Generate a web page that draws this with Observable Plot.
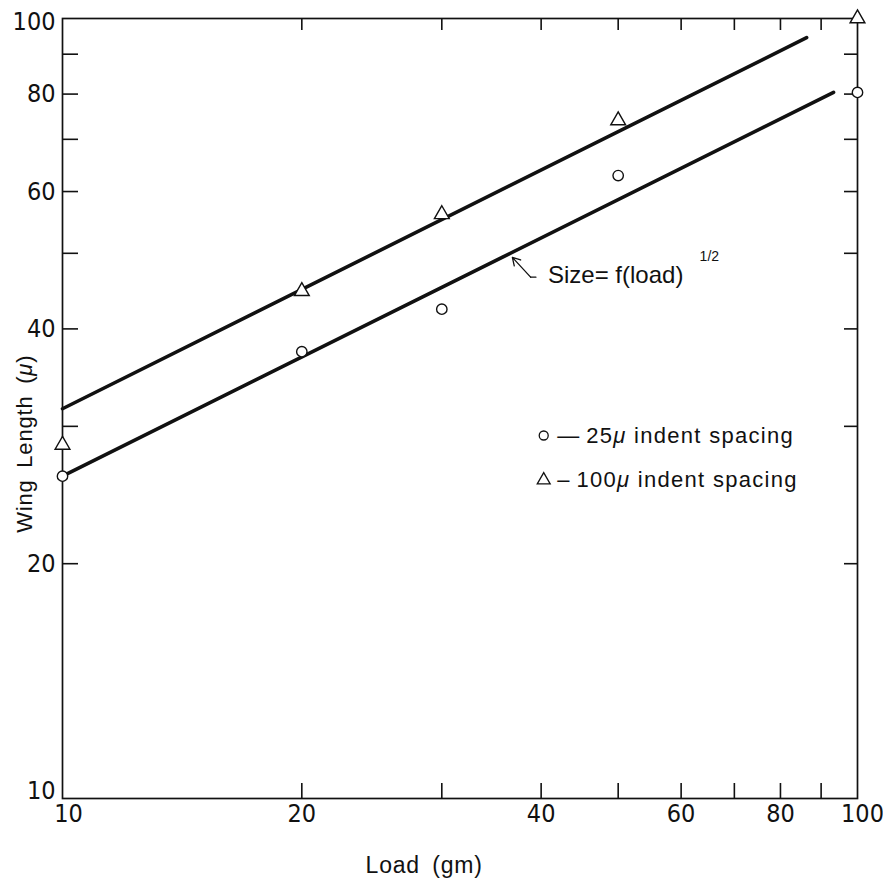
<!DOCTYPE html>
<html><head><meta charset="utf-8">
<script src="https://cdn.jsdelivr.net/npm/d3@7"></script>
<script src="https://cdn.jsdelivr.net/npm/@observablehq/plot@0.6"></script>
<style>
html,body{margin:0;padding:0;background:#fff;}
#chart svg{display:block;}
</style>
</head><body><div id="chart"></div>
<script>
// ---- data ----
const loads = [10, 20, 30, 50, 100];
const wing25 = [25.9, 37.4, 42.4, 62.9, 80.4];    // circles: 25μ indent spacing
const wing100 = [28.4, 44.7, 56.1, 74, 100];      // triangles: 100μ indent spacing
const fitUpperLoad = [10, 86.3];
const fitUpperWing = [31.6, 94.5];
const fitLowerLoad = [10, 93.3];
const fitLowerWing = [25.9, 80.4];
const xTickLabelsMid = [20, 40, 60, 80];
const yTickLabelsMid = [20, 40, 60, 80];
const tickMin = 10, tickMax = 100;
const xMinorTicks = [20, 30, 40, 50, 60, 70, 80, 90];
const yMinorTicks = [20, 30, 40, 50, 60, 70, 80, 90];
const legendLabels = ["\u2014\u200925μ indent spacing", "\u2013\u2009100μ indent spacing"];
const legendAnchorX = [40.3, 40.3];
const legendTextX = [41.9, 41.9];
const legendY = [29.2, 25.6];
const annotationText = "Size= f(load)";
const annotationSup = "1/2";
const xLabel = "Load\u2002(gm)";
const yLabel = "Wing\u2002Length\u2002(μ)";

// ---- layout ----
const W = 883, H = 880;
const mL = 62, mR = 26, mT = 18, mB = 82;
const pw = W - mL - mR, ph = H - mT - mB;
const ink = "#111";
const font = "'Liberation Sans', Arial, sans-serif";
const narrow = "'Liberation Sans Narrow', 'DejaVu Sans Condensed', 'Liberation Sans', sans-serif";
const tickText = {tickSize: 0, tickFormat: d => String(d), fontSize: 25, fontFamily: narrow, label: null};

const chart = Plot.plot({
  width: W, height: H,
  marginLeft: mL, marginRight: mR, marginTop: mT, marginBottom: mB,
  style: {fontFamily: font, fontSize: "19px", color: ink, background: "#fff"},
  x: {type: "log", domain: [10, 100]},
  y: {type: "log", domain: [10, 100]},
  marks: [
    Plot.frame({stroke: ink, strokeWidth: 1.7}),
    Plot.axisX(xTickLabelsMid, {...tickText, tickPadding: 6}),
    Plot.axisX([tickMin], {...tickText, tickPadding: 6, dx: 6}),
    Plot.axisX([tickMax], {...tickText, tickPadding: 6, dx: 5}),
    Plot.axisY(yTickLabelsMid, {...tickText, tickPadding: 7}),
    Plot.axisY([tickMin], {...tickText, tickPadding: 7, dy: -8}),
    Plot.axisY([tickMax], {...tickText, tickPadding: 7, dy: 3}),
    // inward ticks on all four sides
    Plot.ruleY(yMinorTicks, {stroke: ink, strokeWidth: 1.6, insetRight: pw - 16}),
    Plot.ruleY(yMinorTicks, {stroke: ink, strokeWidth: 1.6, insetLeft: pw - 13}),
    Plot.ruleX(xMinorTicks, {stroke: ink, strokeWidth: 1.6, insetTop: ph - 15}),
    Plot.ruleX(xMinorTicks, {stroke: ink, strokeWidth: 1.6, insetBottom: ph - 12}),
    // fitted lines
    Plot.line(fitUpperLoad, {x: d => d, y: (d, i) => fitUpperWing[i], stroke: ink, strokeWidth: 3.6}),
    Plot.line(fitLowerLoad, {x: d => d, y: (d, i) => fitLowerWing[i], stroke: ink, strokeWidth: 3.6}),
    // data points
    Plot.dot(loads, {x: d => d, y: (d, i) => wing25[i], r: 5.2, symbol: "circle", stroke: ink, strokeWidth: 1.4, fill: "white"}),
    Plot.dot(loads, {x: d => d, y: (d, i) => wing100[i], r: 5.5, symbol: "triangle", stroke: ink, strokeWidth: 1.4, fill: "white"}),
    // annotation arrow and text
    Plot.line([[39.4, 46.6], [38.8, 46.6]], {x: d => d[0], y: d => d[1], stroke: ink, strokeWidth: 1.3}),
    Plot.arrow([{x1: 38.8, y1: 46.6, x2: 36.8, y2: 49.4}], {x1: "x1", y1: "y1", x2: "x2", y2: "y2", stroke: ink, strokeWidth: 1.3, headLength: 10, insetEnd: 0}),
    Plot.text([annotationText], {x: 40.8, y: 46.8, text: d => d, textAnchor: "start", fontSize: 24, fill: ink}),
    Plot.text([annotationSup], {x: 63.3, y: 49.6, text: d => d, textAnchor: "start", fontSize: 14, fill: ink}),
    // legend
    Plot.dot([0], {x: legendAnchorX[0], y: legendY[0], symbol: "circle", r: 4.5, stroke: ink, strokeWidth: 1.3, fill: "white"}),
    Plot.dot([1], {x: legendAnchorX[1], y: legendY[1], symbol: "triangle", r: 4.8, stroke: ink, strokeWidth: 1.3, fill: "white"}),
    Plot.text(legendLabels, {x: (d, i) => legendTextX[i], y: (d, i) => legendY[i], text: d => d, textAnchor: "start", fontSize: 22, fill: ink}),
    // axis titles
    Plot.text([xLabel], {x: 28.5, y: 8.2, text: d => d, fontSize: 23, fill: ink}),
    Plot.text([yLabel], {x: 8.98, y: 28.5, text: d => d, rotate: -90, fontSize: 22, fill: ink})
  ]
});
document.getElementById("chart").appendChild(chart);

// italic μ as in the original lettering, and the wide letter spacing of the lettering
chart.querySelectorAll("text").forEach(el => {
  const s = el.textContent;
  if (s.includes("indent")) el.setAttribute("letter-spacing", "1.3");
  if (s.includes("Length") || s.includes("Load")) el.setAttribute("letter-spacing", "0.8");
  if (el.children.length === 0 && s.includes("μ")) {
    const parts = s.split("μ");
    el.textContent = "";
    parts.forEach((p, i) => {
      if (i > 0) {
        const t = document.createElementNS("http://www.w3.org/2000/svg", "tspan");
        t.setAttribute("font-style", "italic");
        t.textContent = "μ";
        el.appendChild(t);
      }
      el.appendChild(document.createTextNode(p));
    });
  }
});
</script>
</body></html>
